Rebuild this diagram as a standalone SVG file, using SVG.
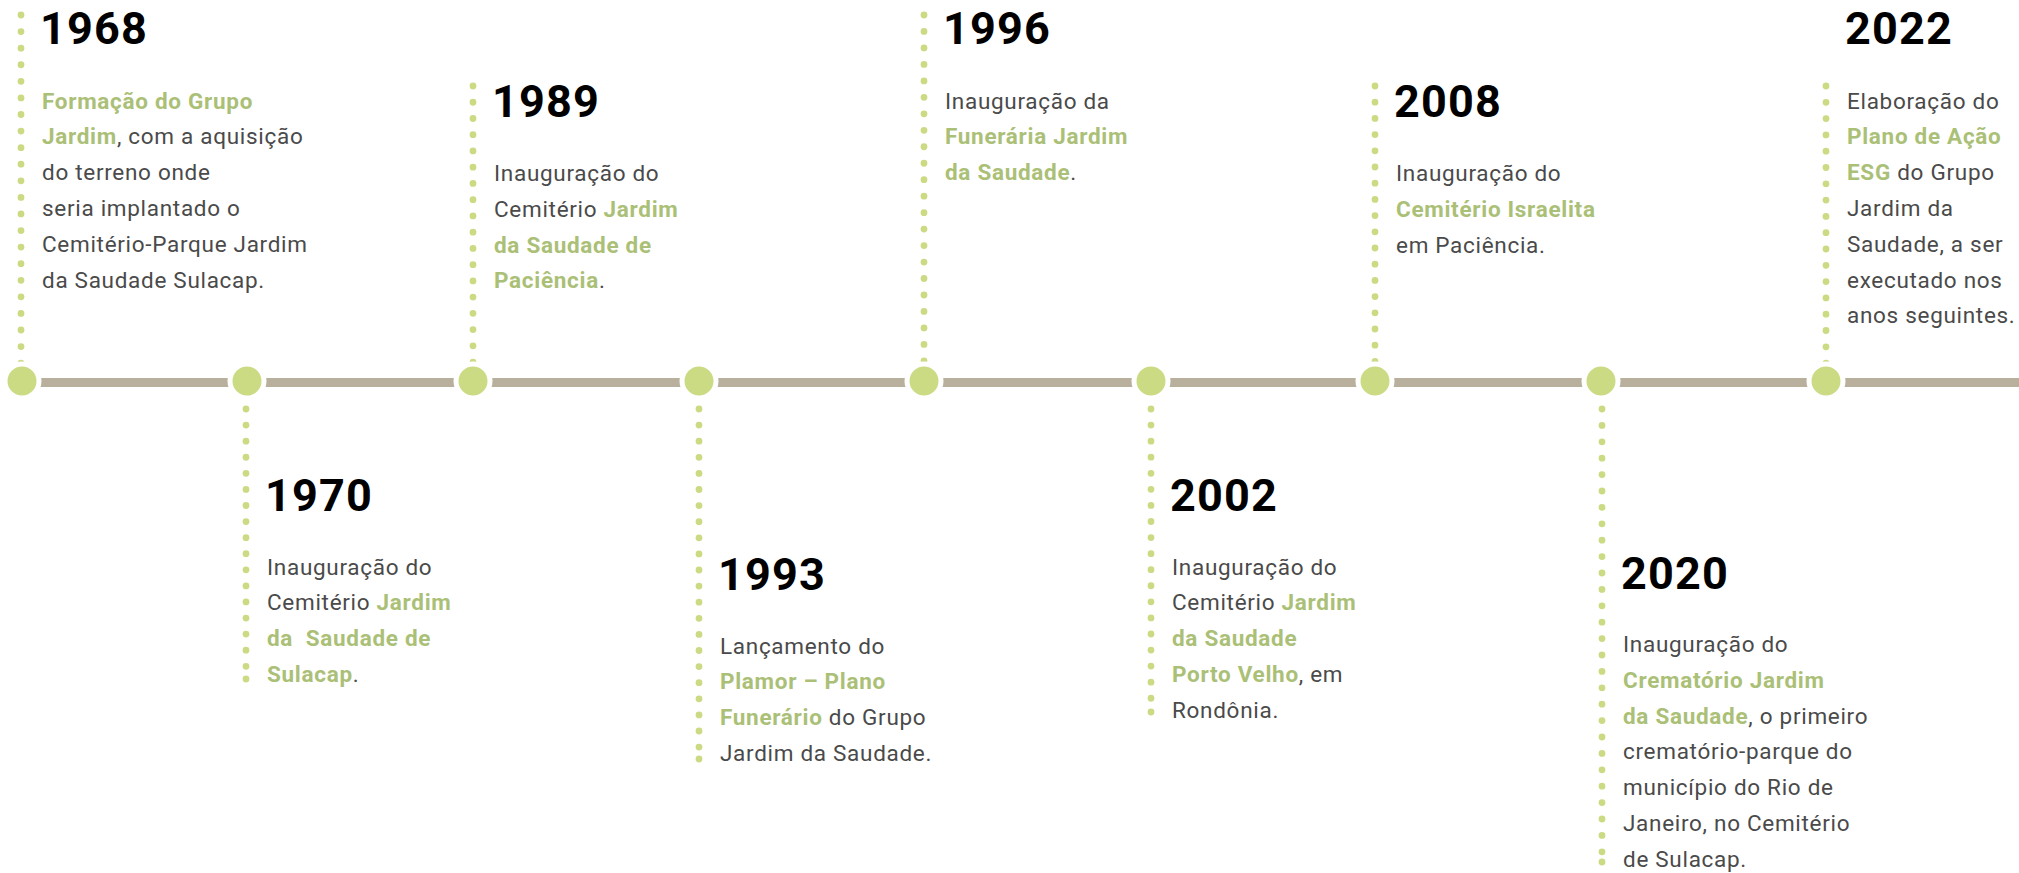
<svg xmlns="http://www.w3.org/2000/svg" width="2019" height="873" viewBox="0 0 2019 873">
<style>
.axis{stroke:#b8b09c;stroke-width:9;fill:none}
.dots{stroke:#cbdb84;stroke-width:6.8;stroke-linecap:round;fill:none}
.enddot{fill:#cbdb84}
.node{fill:#cbdb84;stroke:#ffffff;stroke-width:5}
.year{font-family:Roboto,"Liberation Sans",sans-serif;font-weight:700;font-size:45px;letter-spacing:1.2px;fill:#000000}
.body{font-family:Roboto,"Liberation Sans",sans-serif;font-weight:400;font-size:22.5px;letter-spacing:0.7px;fill:#4a4a4a}
.hl{font-weight:700;fill:#abc077}
</style>
<rect width="2019" height="873" fill="#ffffff"/>
<g id="connectors">
<line class="axis" x1="22" y1="382.5" x2="2019" y2="382.5"/>
<line class="dots" x1="21" y1="15" x2="21" y2="381" stroke-dasharray="0 16.58"/>
<line class="dots" x1="473" y1="86" x2="473" y2="381" stroke-dasharray="0 16.24"/>
<line class="dots" x1="924" y1="15" x2="924" y2="381" stroke-dasharray="0 16.47"/>
<line class="dots" x1="1375" y1="86" x2="1375" y2="381" stroke-dasharray="0 16.2"/>
<line class="dots" x1="1826" y1="86" x2="1826" y2="381" stroke-dasharray="0 16.3"/>
<line class="dots" x1="246" y1="409" x2="246" y2="679" stroke-dasharray="0 16.08"/>
<circle class="enddot" cx="246" cy="679" r="3.4"/>
<line class="dots" x1="699" y1="409" x2="699" y2="759" stroke-dasharray="0 16.1"/>
<circle class="enddot" cx="699" cy="759" r="3.4"/>
<line class="dots" x1="1151" y1="409" x2="1151" y2="712" stroke-dasharray="0 16.07"/>
<circle class="enddot" cx="1151" cy="712" r="3.4"/>
<line class="dots" x1="1602" y1="409" x2="1602" y2="862" stroke-dasharray="0 16.4"/>
<circle class="enddot" cx="1602" cy="862" r="3.4"/>
</g>
<g id="n1968">
<circle class="node" cx="22" cy="381" r="17"/>
<text class="year" x="40" y="44">1968</text>
<text class="body" x="42">
<tspan x="42" y="108.5"><tspan class="hl">Formação do Grupo</tspan></tspan>
<tspan x="42" y="144.3"><tspan class="hl">Jardim</tspan>, com a aquisição</tspan>
<tspan x="42" y="180.1">do terreno onde</tspan>
<tspan x="42" y="215.9">seria implantado o</tspan>
<tspan x="42" y="251.7">Cemitério-Parque Jardim</tspan>
<tspan x="42" y="287.5">da Saudade Sulacap.</tspan>
</text>
</g>
<g id="n1970">
<circle class="node" cx="247" cy="381" r="17"/>
<text class="year" x="265" y="510.5">1970</text>
<text class="body" x="267">
<tspan x="267" y="574.5">Inauguração do</tspan>
<tspan x="267" y="610.3">Cemitério <tspan class="hl">Jardim</tspan></tspan>
<tspan x="267" y="646.1"><tspan class="hl">da&#160; Saudade de</tspan></tspan>
<tspan x="267" y="681.9"><tspan class="hl">Sulacap</tspan>.</tspan>
</text>
</g>
<g id="n1989">
<circle class="node" cx="473" cy="381" r="17"/>
<text class="year" x="492" y="117">1989</text>
<text class="body" x="494">
<tspan x="494" y="181">Inauguração do</tspan>
<tspan x="494" y="216.8">Cemitério <tspan class="hl">Jardim</tspan></tspan>
<tspan x="494" y="252.6"><tspan class="hl">da Saudade de</tspan></tspan>
<tspan x="494" y="288.4"><tspan class="hl">Paciência</tspan>.</tspan>
</text>
</g>
<g id="n1993">
<circle class="node" cx="699" cy="381" r="17"/>
<text class="year" x="718" y="590">1993</text>
<text class="body" x="720">
<tspan x="720" y="653.5">Lançamento do</tspan>
<tspan x="720" y="689.3"><tspan class="hl">Plamor – Plano</tspan></tspan>
<tspan x="720" y="725.1"><tspan class="hl">Funerário</tspan> do Grupo</tspan>
<tspan x="720" y="760.9">Jardim da Saudade.</tspan>
</text>
</g>
<g id="n1996">
<circle class="node" cx="924" cy="381" r="17"/>
<text class="year" x="943" y="44">1996</text>
<text class="body" x="945">
<tspan x="945" y="108.5">Inauguração da</tspan>
<tspan x="945" y="144.3"><tspan class="hl">Funerária Jardim</tspan></tspan>
<tspan x="945" y="180.1"><tspan class="hl">da Saudade</tspan>.</tspan>
</text>
</g>
<g id="n2002">
<circle class="node" cx="1151" cy="381" r="17"/>
<text class="year" x="1170" y="510.5">2002</text>
<text class="body" x="1172">
<tspan x="1172" y="574.5">Inauguração do</tspan>
<tspan x="1172" y="610.3">Cemitério <tspan class="hl">Jardim</tspan></tspan>
<tspan x="1172" y="646.1"><tspan class="hl">da Saudade</tspan></tspan>
<tspan x="1172" y="681.9"><tspan class="hl">Porto Velho</tspan>, em</tspan>
<tspan x="1172" y="717.7">Rondônia.</tspan>
</text>
</g>
<g id="n2008">
<circle class="node" cx="1375" cy="381" r="17"/>
<text class="year" x="1394" y="117">2008</text>
<text class="body" x="1396">
<tspan x="1396" y="181">Inauguração do</tspan>
<tspan x="1396" y="216.8"><tspan class="hl">Cemitério Israelita</tspan></tspan>
<tspan x="1396" y="252.6">em Paciência.</tspan>
</text>
</g>
<g id="n2020">
<circle class="node" cx="1601" cy="381" r="17"/>
<text class="year" x="1621" y="589">2020</text>
<text class="body" x="1623">
<tspan x="1623" y="652">Inauguração do</tspan>
<tspan x="1623" y="687.8"><tspan class="hl">Crematório Jardim</tspan></tspan>
<tspan x="1623" y="723.6"><tspan class="hl">da Saudade</tspan>, o primeiro</tspan>
<tspan x="1623" y="759.4">crematório-parque do</tspan>
<tspan x="1623" y="795.2">município do Rio de</tspan>
<tspan x="1623" y="831">Janeiro, no Cemitério</tspan>
<tspan x="1623" y="866.8">de Sulacap.</tspan>
</text>
</g>
<g id="n2022">
<circle class="node" cx="1826" cy="381" r="17"/>
<text class="year" x="1845" y="44">2022</text>
<text class="body" x="1847">
<tspan x="1847" y="108.5">Elaboração do</tspan>
<tspan x="1847" y="144.3"><tspan class="hl">Plano de Ação</tspan></tspan>
<tspan x="1847" y="180.1"><tspan class="hl">ESG</tspan> do Grupo</tspan>
<tspan x="1847" y="215.9">Jardim da</tspan>
<tspan x="1847" y="251.7">Saudade, a ser</tspan>
<tspan x="1847" y="287.5">executado nos</tspan>
<tspan x="1847" y="323.3">anos seguintes.</tspan>
</text>
</g>
</svg>
